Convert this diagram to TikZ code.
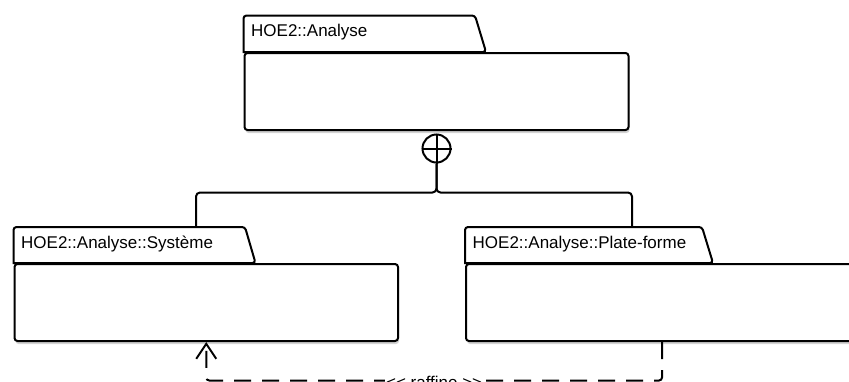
\documentclass[tikz,border=0pt]{standalone}
\usepackage{fontspec}
\setmainfont{Liberation Sans}
\usetikzlibrary{
  arrows.meta,
  positioning,
  calc,
  shadows
}
\tikzset{
  % paquets UML
  pkgbody/.style  = {draw, line width=2pt, fill=white, rounded corners=3pt,
                     inner sep=0pt, anchor=north west,
                     drop shadow={opacity=.35, shadow xshift=1pt, shadow yshift=-3pt}},
  pkgtab/.style   = {draw, line width=2pt, fill=white},
  pkgtitle/.style = {font=\fontsize{17}{20}\selectfont, anchor=base west, inner sep=0pt},
  % imbrication
  nestline/.style = {line width=2pt, rounded corners=4pt},
  nestmark/.style = {circle, draw, line width=2pt, minimum size=28pt,
                     inner sep=0pt, fill=white},
  % dependance raffine
  refine/.style   = {line width=2pt, dash pattern=on 17pt off 11pt, rounded corners=3pt,
                     -{Straight Barb[length=15pt,width=20pt]}},
  reflabel/.style = {font=\fontsize{17}{20}\selectfont, fill=white, inner sep=1pt},
}
\begin{document}
\begin{tikzpicture}[x=1pt, y=-1pt]
  \useasboundingbox (0,0) rectangle (849,381);
  \clip (0,0) rectangle (849,381);

  % paquet englobant
  \node[pkgbody, minimum width=384pt, minimum height=77pt] (ana) at (243.5,52) {};
  \draw[pkgtab] (ana.north west) [rounded corners=3pt] -- ++(0,-36.5) coordinate (anatab)
    -- ++(231.5,0) -- ++(11,36.5) [sharp corners] -- cycle;
  \node[pkgtitle] (anatitle) at ($(ana.north west)+(7.5,-15.5)$) {HOE2::Analyse};

  % sous-paquets
  \node[pkgbody, minimum width=383.5pt, minimum height=77pt] (sys) at (13.5,263) {};
  \draw[pkgtab] (sys.north west) [rounded corners=3pt] -- ++(0,-36) coordinate (systab)
    -- ++(231.5,0) -- ++(10.5,36) [sharp corners] -- cycle;
  \node[pkgtitle] (systitle) at ($(sys.north west)+(7.5,-14.5)$) {HOE2::Analyse::Système};

  \node[pkgbody, minimum width=400pt, minimum height=77pt] (pf) at (465,263) {};
  \draw[pkgtab] (pf.north west) [rounded corners=3pt] -- ++(0,-36) coordinate (pftab)
    -- ++(237,0) -- ++(11,36) [sharp corners] -- cycle;
  \node[pkgtitle] (pftitle) at ($(pf.north west)+(7.5,-14.5)$) {HOE2::Analyse::Plate-forme};

  % imbrication
  \node[nestmark, below=2.5pt of ana] (nest) {};
  \draw[line width=2pt] (nest.north) -- (nest.south) (nest.west) -- (nest.east);
  \coordinate (fork) at ($(nest.south)+(0,29)$);
  \draw[nestline] (nest.south) -- (fork) -| ($(systab)+(182.5,0)$);
  \draw[nestline] (nest.south) -- (fork) -| ($(pftab)+(167,0)$);

  % dependance
  \coordinate (pfout) at ($(pf.south west)+(197,0)$);
  \draw[refine] (pfout) -- ++(0,38.5) -| (sys.south)
    node[reflabel, pos=.25, anchor=north, yshift=6pt] (reftext) {{<}{<} raffine {>}{>}};
\end{tikzpicture}
\end{document}
